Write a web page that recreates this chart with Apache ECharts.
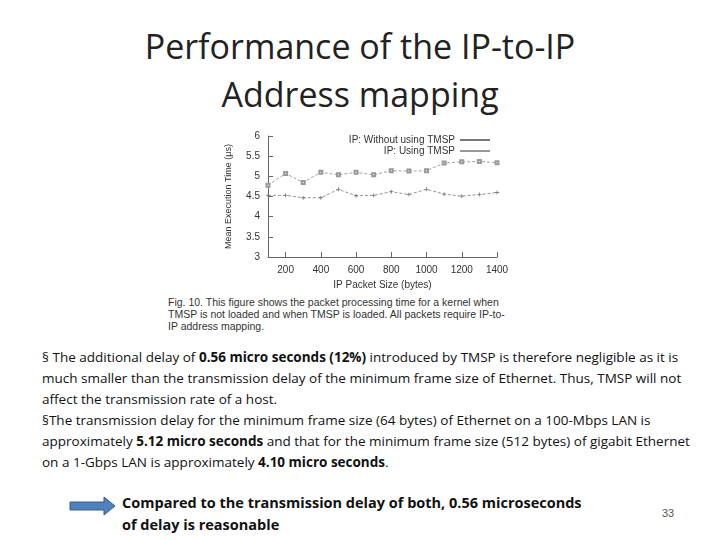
<!DOCTYPE html><html><head><meta charset="utf-8">
<script src="https://cdn.jsdelivr.net/npm/echarts@6/dist/echarts.min.js"></script>
<style>
body{margin:0;width:720px;height:540px;background:#fff;position:relative;font-family:"Liberation Sans",Arial,sans-serif;overflow:hidden}
.t{position:absolute;left:0;width:720px;text-align:center;font-family:"Open Sans",sans-serif;font-size:34px;color:#222;line-height:48px;top:22px}
.body{position:absolute;left:42px;top:347px;width:652px;font-family:"Open Sans",sans-serif;font-size:13.5px;line-height:21px;color:#111}
.cap{position:absolute;left:168px;top:296px;font-size:10.5px;line-height:12px;color:#333}
.bot{position:absolute;left:122px;top:492px;font-family:"Open Sans",sans-serif;font-weight:bold;font-size:14.5px;line-height:22px;color:#111}
.pn{position:absolute;left:662px;top:507px;font-size:11px;color:#555}
#c{position:absolute;left:200px;top:125px;width:320px;height:170px}
</style></head><body>
<div class="t">Performance of the IP-to-IP<br>Address mapping</div>
<div id="c"></div>
<div class="cap">Fig. 10. This figure shows the packet processing time for a kernel when<br>TMSP is not loaded and when TMSP is loaded. All packets require IP-to-<br>IP address mapping.</div>
<div class="body">§ The additional delay of <b>0.56 micro seconds (12%)</b> introduced by TMSP is therefore negligible as it is much smaller than the transmission delay of the minimum frame size of Ethernet. Thus, TMSP will not affect the transmission rate of a host.<br>§The transmission delay for the minimum frame size (64 bytes) of Ethernet on a 100-Mbps LAN is approximately <b>5.12 micro seconds</b> and that for the minimum frame size (512 bytes) of gigabit Ethernet on a 1-Gbps LAN is approximately <b>4.10 micro seconds</b>.</div>
<svg style="position:absolute;left:68px;top:496px" width="50" height="20"><path d="M2 6 H36 V1 L47 10 L36 19 V14 H2 Z" fill="#4f81bd" stroke="#385d8a"/></svg>
<div class="bot">Compared to the transmission delay of both, 0.56 microseconds<br>of delay is reasonable</div>
<div class="pn">33</div>
<script>
const sizes=[100,200,300,400,500,600,700,800,900,1000,1100,1200,1300,1400];
const withoutTMSP=[4.53,4.53,4.47,4.47,4.68,4.52,4.53,4.62,4.55,4.68,4.56,4.51,4.55,4.6];
const usingTMSP=[4.78,5.07,4.85,5.1,5.04,5.1,5.04,5.14,5.13,5.14,5.33,5.36,5.37,5.34];
const xTicks=[200,400,600,800,1000,1200,1400];
const yTicks=['3','3.5','4','4.5','5','5.5','6'];
const ch=echarts.init(document.getElementById('c'));
const ax={color:'#333',fontSize:10,fontFamily:'Liberation Sans'};
ch.setOption({animation:false,
grid:{left:68,right:23,top:11,bottom:35},
legend:{right:25,top:5,orient:'vertical',align:'right',itemWidth:30,itemHeight:2,itemGap:1,textStyle:{fontSize:10,color:'#333'},
data:[{name:'IP: Without using TMSP',icon:'rect'},{name:'IP: Using TMSP',icon:'rect'}]},
xAxis:{type:'value',min:100,max:1400,interval:100,
axisLabel:{...ax,customValues:xTicks,formatter:v=>String(v)},axisTick:{customValues:xTicks,inside:true,lineStyle:{color:'#666'}},
axisLine:{lineStyle:{color:'#666'}},splitLine:{show:false},name:'IP Packet Size (bytes)',nameLocation:'middle',nameGap:18,nameTextStyle:ax},
yAxis:{type:'value',min:3,max:6,interval:0.5,axisLabel:{...ax,formatter:v=>yTicks[Math.round((v-3)*2)]},axisLine:{show:true,lineStyle:{color:'#666'}},axisTick:{inside:true},splitLine:{show:false},
name:'Mean Execution Time (μs)',nameLocation:'middle',nameGap:35,nameTextStyle:{...ax,fontSize:9}},
series:[
{name:'IP: Without using TMSP',type:'line',data:sizes.map((x,i)=>[x,withoutTMSP[i]]),symbol:'path://M0,4H10V6H0ZM4,0H6V10H4Z',symbolSize:4,color:'#777',itemStyle:{color:'#777'},lineStyle:{width:0.8,type:[3,2],color:'#777'}},
{name:'IP: Using TMSP',type:'line',data:sizes.map((x,i)=>[x,usingTMSP[i]]),symbol:'emptyRect',symbolSize:3,color:'#999',itemStyle:{borderWidth:0.8},lineStyle:{width:0.8,type:[3,2],color:'#888'}}
]});
</script></body></html>
